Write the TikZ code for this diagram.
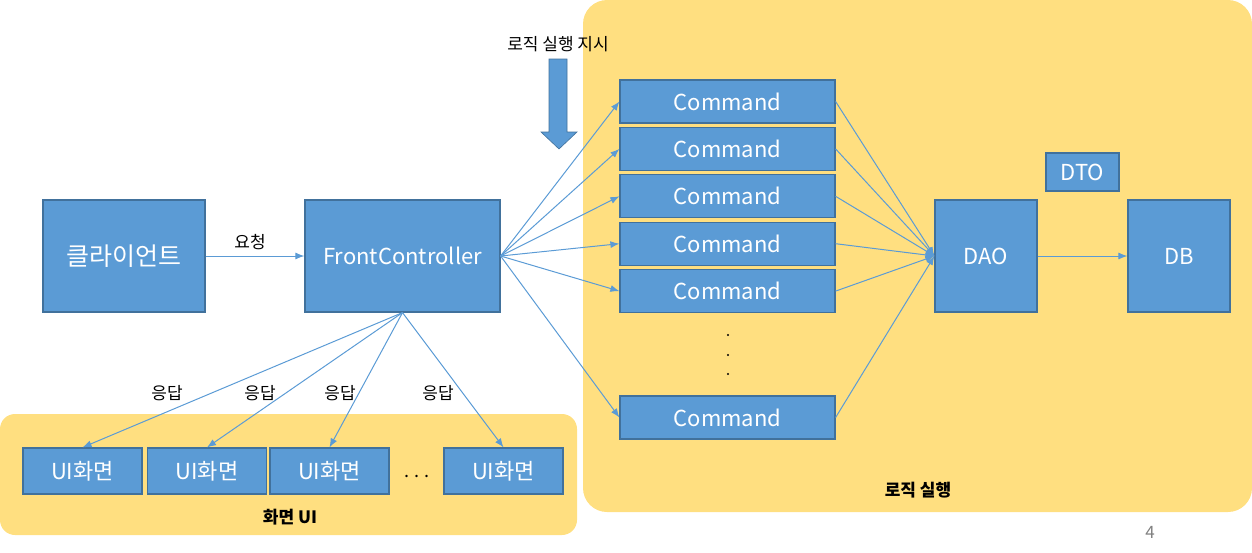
\documentclass[tikz,border=0pt]{standalone}
\usepackage{fontspec}
\setmainfont{Noto Sans CJK KR}
\usetikzlibrary{arrows.meta,positioning}
\definecolor{boxblue}{HTML}{5B9BD5}
\definecolor{boxedge}{HTML}{41719C}
\definecolor{zoneyellow}{HTML}{FFDF80}
\definecolor{pagegray}{HTML}{7F7F7F}
\tikzset{
  box/.style={rectangle,draw=boxedge,line width=0.6pt,fill=boxblue,text=white,
    inner sep=0pt,font=\fontsize{11}{13}\selectfont},
  bigbox/.style={box,minimum width=51pt,minimum height=56pt},
  cmd/.style={box,minimum width=107.5pt,minimum height=21.5pt},
  uibox/.style={box,minimum width=59.5pt,minimum height=23pt},
  zone/.style={fill=zoneyellow,draw=none},
  flow/.style={-{Latex[length=4.5pt,width=3.5pt]},draw=boxblue,line width=0.5pt},
  lbl/.style={font=\fontsize{8.5}{10}\selectfont,inner sep=1pt},
  zonelbl/.style={lbl,font=\fontsize{8.5}{10}\selectfont\bfseries}
}
\begin{document}
\begin{tikzpicture}[x=0.5pt,y=-0.5pt]
  \useasboundingbox (0,0) rectangle (1252,552);
  % zones
  \fill[zone,rounded corners=7.5pt] (0,414) rectangle (577,535);
  \fill[zone,rounded corners=12pt] (583,0) rectangle (1252,512);
  \node[zonelbl] (uizone) at (290,517) {화면 UI};
  \node[zonelbl] (logiczone) at (918,490) {로직 실행};
  % client side
  \node[bigbox,minimum width=81pt,font=\fontsize{12.5}{14}\selectfont] (client) at (124,256) {클라이언트};
  \node[bigbox,minimum width=97.5pt] (fc) at (402.5,256) {FrontController};
  % commands
  \node[cmd] (c1) at (727.5,101.5) {Command};
  \node[cmd,below=1.6pt of c1] (c2) {Command};
  \node[cmd,below=1.6pt of c2] (c3) {Command};
  \node[cmd,below=1.6pt of c3] (c4) {Command};
  \node[cmd,below=1.6pt of c4] (c5) {Command};
  \node[cmd] (c6) at (727.5,417.5) {Command};
  \foreach \y in {335,355,374}
    \fill (728,\y) circle (0.6pt);
  \node[bigbox] (dao) at (986,256) {DAO};
  \node[bigbox] (db) at (1179,256) {DB};
  \node[box,minimum width=36.5pt,minimum height=19pt] (dto) at (1082.5,172) {DTO};
  % screens
  \node[uibox] (ui1) at (82.5,471) {UI화면};
  \node[uibox] (ui2) at (207,471) {UI화면};
  \node[uibox] (ui3) at (329.5,471) {UI화면};
  \node[lbl,font=\fontsize{9}{10}\selectfont] (more) at (417,476) {. . .};
  \node[uibox] (ui4) at (503.5,471) {UI화면};
  % instruction arrow
  \node[lbl] (order) at (558,44) {로직 실행 지시};
  \draw[boxedge,fill=boxblue,line width=0.3pt] (549,59) -- (567,59) -- (567,132) -- (577,132)
    -- (559,149) -- (541,132) -- (549,132) -- cycle;
  % connectors
  \draw[flow] (client) -- node[lbl,above=2pt,xshift=-2.5pt] (req) {요청} (fc);
  \foreach \c in {c1,c2,c3,c4,c5,c6} {
    \draw[flow] (fc.east) -- (\c.west);
    \draw[flow] (\c.east) -- (dao.west);
  }
  \draw[flow] (dao) -- (db);
  \foreach \u in {ui1,ui2,ui3,ui4}
    \draw[flow] (fc.south) -- (\u.north);
  \node[lbl] (res1) at (167,393) {응답};
  \node[lbl] (res2) at (260,393) {응답};
  \node[lbl] (res3) at (340,393) {응답};
  \node[lbl] (res4) at (438,393) {응답};
  \node[lbl,text=pagegray] (page) at (1150,532) {4};
\end{tikzpicture}
\end{document}
